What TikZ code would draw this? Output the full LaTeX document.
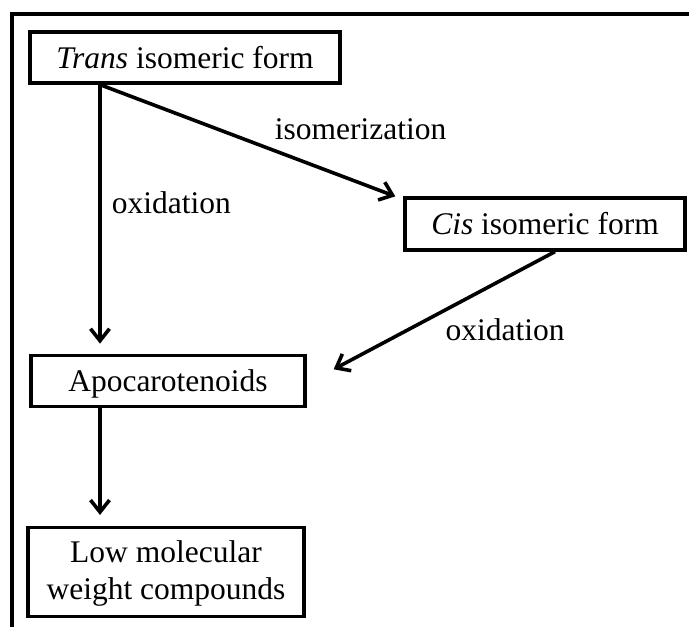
\documentclass[tikz,border=0pt]{standalone}
\usepackage{fontspec}
\setmainfont{Liberation Serif}
\usetikzlibrary{arrows.meta,positioning,calc}
\tikzset{
  flowbox/.style={
    draw,line width=3.3pt,align=center,minimum height=51pt,inner sep=4pt,
    font=\fontsize{31.5}{37}\selectfont
  },
  singlebox/.style={flowbox,text height=21pt,text depth=0pt},
  flowarrow/.style={-{Straight Barb[length=12pt,width=19pt,line width=3.6pt]},line width=3.6pt},
  framestroke/.style={line width=4pt},
  steplabel/.style={inner sep=0pt,font=\fontsize{31.5}{37}\selectfont}
}

\begin{document}
\begin{tikzpicture}[x=1pt,y=-1pt]
  \useasboundingbox (0,0) rectangle (689,627);
  \draw[framestroke] (12,627) -- (12,13.5) -- (689,13.5);

  \node[singlebox,minimum width=310pt] (trans) at (185,57.5) {\textit{Trans} isomeric form};
  \node[singlebox,minimum width=280pt,minimum height=52pt] (cis) at (545,224) {\textit{Cis} isomeric form};
  \node[singlebox,minimum width=274pt,below=269pt of trans,xshift=-17pt] (apo) {Apocarotenoids};
  \node[flowbox,minimum width=276pt,minimum height=89pt,below=118pt of apo,xshift=-2pt] (low)
    {\rule{0pt}{25pt}Low molecular\\weight compounds};

  \coordinate (fork) at ([xshift=-85pt]trans.south);
  \draw[flowarrow,shorten >=10pt] (fork) -- node[steplabel,pos=0.48,anchor=base west,xshift=10pt] (oxleft) {oxidation} (fork |- apo.north);
  \draw[flowarrow] (fork) -- node[steplabel,pos=0.586,anchor=base west,yshift=11pt] (isolabel) {isomerization} ([xshift=-8pt]cis.north west);
  \draw[flowarrow] ([xshift=10pt]cis.south) -- node[steplabel,pos=0.502,anchor=base west,yshift=-30pt] (oxright) {oxidation} ([shift={(27pt,11.5pt)}]apo.east);
  \draw[flowarrow,shorten >=11pt] (fork |- apo.south) -- (fork |- low.north);
\end{tikzpicture}
\end{document}
